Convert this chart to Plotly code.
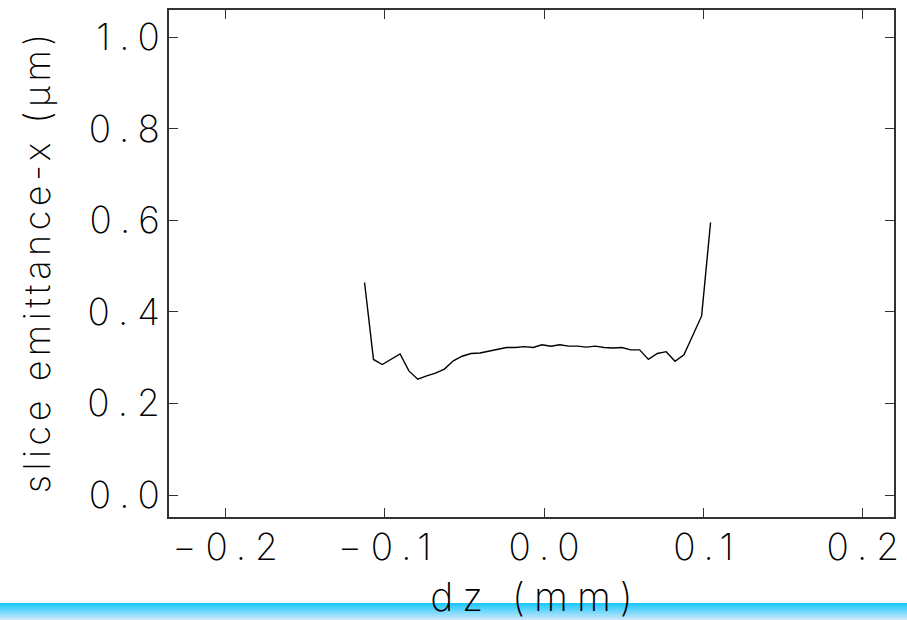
import plotly.graph_objects as go

# slice emittance along the bunch
dz_mm = [-0.1126, -0.1070, -0.1015, -0.0959, -0.0903, -0.0848, -0.0792, -0.0736,
         -0.0681, -0.0625, -0.0569, -0.0514, -0.0458, -0.0402, -0.0347, -0.0291,
         -0.0235, -0.0180, -0.0124, -0.0068, -0.0013, 0.0043, 0.0099, 0.0154,
         0.0210, 0.0266, 0.0321, 0.0377, 0.0433, 0.0488, 0.0544, 0.0600,
         0.0655, 0.0711, 0.0767, 0.0822, 0.0878, 0.0934, 0.0989, 0.1045]
emit_x_um = [0.464, 0.296, 0.285, 0.297, 0.308, 0.271, 0.253, 0.260,
             0.266, 0.275, 0.293, 0.303, 0.309, 0.310, 0.314, 0.318,
             0.322, 0.322, 0.324, 0.322, 0.328, 0.325, 0.328, 0.325,
             0.325, 0.323, 0.325, 0.322, 0.321, 0.322, 0.317, 0.317,
             0.296, 0.309, 0.313, 0.292, 0.306, 0.349, 0.391, 0.595]

x_ticks = [-0.2, -0.1, 0.0, 0.1, 0.2]
x_tick_labels = ["\u22120.2", "\u22120.1", "0.0", "0.1", "0.2"]
y_ticks = [0.0, 0.2, 0.4, 0.6, 0.8, 1.0]
y_tick_labels = ["0.0", "0.2", "0.4", "0.6", "0.8", "1.0"]

TICK_FONT = dict(family="Inter", size=37, color="#000000", weight=200)
XT_FONT = dict(family="Inter", size=39, color="#000000", weight=200)
YT_FONT = dict(family="Inter", size=36, color="#000000", weight=200)
AX = "#333333"

fig = go.Figure()
fig.add_trace(go.Scatter(x=dz_mm, y=emit_x_um, mode="lines",
                         line=dict(color="#000000", width=1.4),
                         showlegend=False, hoverinfo="skip"))

axis_common = dict(showgrid=False, zeroline=False, showline=True, automargin=False,
                   linecolor=AX, linewidth=1.5, mirror="allticks",
                   ticks="inside", ticklen=9, tickwidth=1.2, tickcolor=AX,
                   tickfont=TICK_FONT)

fig.update_xaxes(range=[-0.2353, 0.2196], tickvals=x_ticks, ticktext=x_tick_labels,
                 title=dict(text="dz (mm)", font=XT_FONT, standoff=16),
                 ticklabelstandoff=-3, **axis_common)
fig.update_yaxes(range=[-0.048, 1.059], tickvals=y_ticks, ticktext=y_tick_labels,
                 title=dict(text="slice emittance-x (\u03bcm)", font=YT_FONT, standoff=44),
                 ticklabelstandoff=0, **axis_common)

# blue gradient strip along the bottom of the page
plot_h = 620 - 10 - 103
top_px, bot_px = 603, 620
c0, c1 = (25, 200, 255), (205, 232, 250)
n = bot_px - top_px
for i in range(n):
    t = i / (n - 1)
    col = tuple(round(a + (b - a) * t) for a, b in zip(c0, c1))
    y_hi = -((top_px + i) - 517) / plot_h
    y_lo = -((top_px + i + 1) - 517) / plot_h
    fig.add_shape(type="rect", xref="paper", yref="paper",
                  x0=-169 / 725, x1=1 + 13 / 725, y0=y_lo, y1=y_hi,
                  line=dict(width=0), fillcolor="rgb(%d,%d,%d)" % col, layer="below")

fig.update_layout(width=907, height=620, margin=dict(l=169, r=13, t=10, b=103, autoexpand=False),
                  paper_bgcolor="white", plot_bgcolor="white")

# widen the letter spacing of the axis texts
spacing_js = """
var gd = document.getElementById('{plot_id}');
function spread(sel, px, shift) {
  gd.querySelectorAll(sel).forEach(function (t) {
    t.style.letterSpacing = px + 'px';
    t.setAttribute('dx', px * shift);
  });
}
spread('.xtick text', 9, 0.5);
spread('.ytick text', 9, 1.0);
spread('.g-xtitle text', 9, 0.5);
spread('.g-ytitle text', 4.5, 0.5);
"""

fig.write_html("out.html", post_script=spacing_js)
